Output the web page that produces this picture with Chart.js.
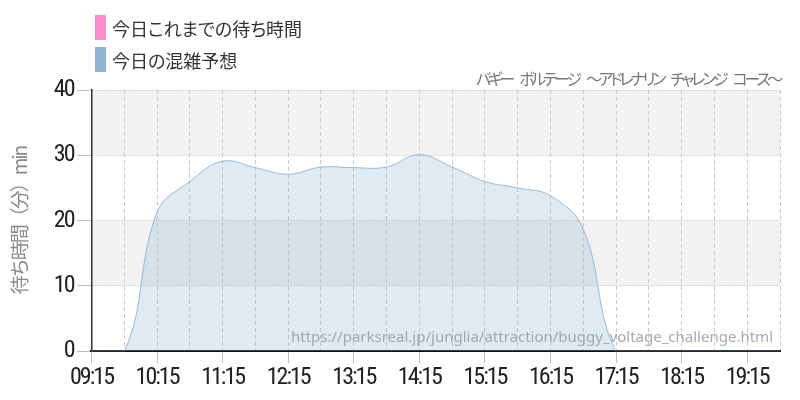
<!DOCTYPE html>
<html lang="ja">
<head>
  <meta charset="UTF-8">
  <title>バギー ボルテージ 待ち時間</title>
  <style>
    body {
      margin: 0;
      background: #fff;
      font-family: "Noto Sans CJK JP", sans-serif;
    }

    #wrap {
      position: relative;
      width: 800px;
      height: 400px;
    }

    #legend {
      position: absolute;
      left: 95px;
      top: 15px;
    }

    .item {
      display: flex;
      align-items: center;
      height: 25px;
      margin-bottom: 7px;
      font-size: 18px;
      color: #333;
      font-feature-settings: "palt";
      white-space: nowrap;
    }

    .box {
      width: 11px;
      height: 25px;
      margin-right: 6px;
    }

    #title {
      position: absolute;
      right: 20px;
      top: 68px;
      font-size: 16px;
      line-height: 20px;
      letter-spacing: -3.3px;
      word-spacing: 7px;
      color: #777;
      font-feature-settings: "palt";
      white-space: pre;
    }
  </style>
</head>

<body>
  <div id="wrap">
    <canvas id="waitChart"></canvas>
    <div id="legend"></div>
    <div id="title"></div>
  </div>

  <script src="https://cdn.jsdelivr.net/npm/chart.js"></script>
  <script>
    const attractionName = 'バギー ボルテージ 〜アドレナリン チャレンジ コース〜';
    const sourceUrl = 'https://parksreal.jp/junglia/attraction/buggy_voltage_challenge.html';

    // 30 minute slots
    const times = [
      '09:15', '09:45', '10:15', '10:45', '11:15', '11:45', '12:15', '12:45',
      '13:15', '13:45', '14:15', '14:45', '15:15', '15:45', '16:15', '16:45',
      '17:15', '17:45', '18:15', '18:45', '19:15', '19:45'
    ];

    // 今日の混雑予想 (min)
    const forecast = [
      0, 0, 21.3, 26, 29.1, 28.1, 27.1, 28.2,
      28.1, 28.2, 30.1, 28.2, 26, 25, 23.8, 18.7,
      0, 0, 0, 0, 0, 0
    ];

    // 今日これまでの待ち時間 (no values yet)
    const actual = [];

    const yTicks = [0, 10, 20, 30, 40];

    const tickFont = "'Roboto Condensed', 'Liberation Sans Narrow', 'DejaVu Sans Condensed', Roboto, sans-serif";

    // grey bands 10-20 and 30-40
    const bands = {
      id: 'bands',
      beforeDraw(chart) {
        const { ctx, chartArea: a, scales: { y } } = chart;
        ctx.save();
        ctx.fillStyle = '#f2f2f2';
        for (let i = 1; i < yTicks.length - 1; i += 2) {
          const top = y.getPixelForValue(yTicks[i + 1]);
          const bottom = y.getPixelForValue(yTicks[i]);
          ctx.fillRect(a.left, top, a.right - a.left, bottom - top);
        }
        ctx.restore();
        // narrower axis text
        ctx.letterSpacing = '-2px';
      },
      beforeDatasetsDraw(chart) {
        chart.ctx.letterSpacing = '0px';
      }
    };

    const watermark = {
      id: 'watermark',
      afterDatasetsDraw(chart) {
        const { ctx, chartArea: a } = chart;
        ctx.save();
        ctx.font = '15px "Noto Sans", sans-serif';
        ctx.fillStyle = 'rgba(150,154,160,0.85)';
        ctx.textAlign = 'right';
        ctx.textBaseline = 'alphabetic';
        ctx.fillText(sourceUrl, a.right - 7, a.bottom - 9);
        ctx.restore();
      }
    };

    const ctx = document.getElementById('waitChart').getContext('2d');
    const chart = new Chart(ctx, {
      type: 'line',
      data: {
        labels: times,
        datasets: [{
          label: '今日これまでの待ち時間',
          data: actual,
          borderColor: '#ff8ccb',
          backgroundColor: '#ff8ccb',
          borderWidth: 2,
          pointRadius: 0
        }, {
          label: '今日の混雑予想',
          data: forecast,
          borderColor: 'rgba(143,179,211,0.9)',
          backgroundColor: 'rgba(143,179,211,0.28)',
          legendColor: '#8fb3d3',
          borderWidth: 1,
          pointRadius: 0,
          tension: 0.4,
          fill: 'origin'
        }]
      },
      options: {
        responsive: true,
        maintainAspectRatio: false,
        animation: false,
        layout: {
          padding: { top: 90, right: 20, bottom: 8, left: 0 }
        },
        plugins: {
          legend: { display: false },
          title: { display: false },
          tooltip: { enabled: false }
        },
        scales: {
          x: {
            type: 'category',
            offset: false,
            grid: {
              color: '#c8c8c8',
              tickColor: c => c.index % 2 === 0 ? '#bbbbbb' : 'rgba(0,0,0,0)',
              tickLength: 12
            },
            border: { color: '#111', width: 2, dash: [4, 3] },
            ticks: {
              autoSkip: false,
              maxRotation: 0,
              padding: 0,
              color: '#222',
              font: { family: tickFont, size: 24 },
              callback: (v, i) => i % 2 === 0 ? times[i] : ''
            }
          },
          y: {
            min: 0,
            max: 40,
            grid: {
              color: '#bbbbbb',
              tickColor: '#bbbbbb',
              tickLength: 14
            },
            border: { color: '#333', width: 1.5, dash: [1, 2] },
            ticks: {
              stepSize: 10,
              padding: 4,
              color: '#222',
              font: { family: tickFont, size: 24 }
            },
            title: {
              display: true,
              text: '待ち時間（分）min',
              color: '#888',
              font: { family: "'Noto Sans CJK JP', sans-serif", size: 19 },
              padding: { top: 8, bottom: 15 }
            }
          }
        }
      },
      plugins: [bands, watermark]
    });

    // html legend built from the datasets
    const legend = document.getElementById('legend');
    chart.data.datasets.forEach(ds => {
      const row = document.createElement('div');
      row.className = 'item';
      const box = document.createElement('span');
      box.className = 'box';
      box.style.background = ds.legendColor || ds.backgroundColor;
      row.appendChild(box);
      row.appendChild(document.createTextNode(ds.label));
      legend.appendChild(row);
    });
    document.getElementById('title').textContent = attractionName;
  </script>
</body>

</html>
